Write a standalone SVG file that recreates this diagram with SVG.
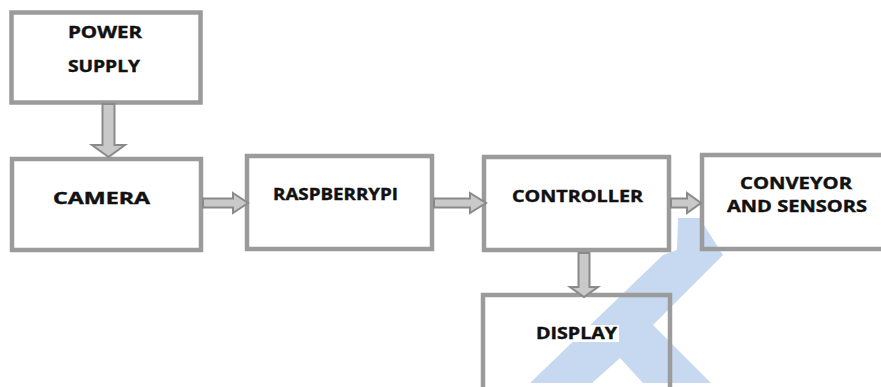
<svg xmlns="http://www.w3.org/2000/svg" width="881" height="387" viewBox="0 0 881 387">
  <style>
    .box { fill: none; stroke: #9b9b9b; stroke-width: 4.5; }
    .lbl { font-family: "Open Sans", "Liberation Sans", sans-serif; font-weight: 700; font-size: 15.5px; fill: #111; text-anchor: start; stroke: #111; stroke-width: 0.4; }
    .halo { fill: #fff; }
    .arr { fill: #c9c9c9; stroke: #8a8a8a; stroke-width: 2; stroke-linejoin: miter; }
    .wm { fill: #c6d9f0; }
  </style>
  <rect x="0" y="0" width="881" height="387" fill="#fff"/>
  <polygon class="wm" points="678,218 700,218 702,222 723,255 653,325 711,383 643,383 620,358 592,383 530,383 663,255 677,250"/>
  <g id="power-supply">
    <rect class="box" x="11.5" y="12.5" width="189" height="90"/>
    <text class="lbl" x="68" y="37.5" textLength="74" lengthAdjust="spacingAndGlyphs">POWER</text>
    <text class="lbl" x="68" y="71.5" textLength="72" lengthAdjust="spacingAndGlyphs">SUPPLY</text>
  </g>
  <g id="camera">
    <rect class="box" x="12" y="159" width="189" height="91"/>
    <text class="lbl" x="53" y="203.5" textLength="97" lengthAdjust="spacingAndGlyphs">CAMERA</text>
  </g>
  <g id="raspberrypi">
    <rect class="box" x="247" y="156" width="185" height="93"/>
    <text class="lbl" x="273" y="200" textLength="125" lengthAdjust="spacingAndGlyphs">RASPBERRYPI</text>
  </g>
  <g id="controller">
    <rect class="box" x="484" y="157" width="185" height="93"/>
    <text class="lbl" x="512" y="201.5" textLength="131" lengthAdjust="spacingAndGlyphs">CONTROLLER</text>
  </g>
  <g id="conveyor-and-sensors">
    <rect class="box" x="702" y="155" width="190" height="94"/>
    <text class="lbl" x="740" y="188.5" textLength="112" lengthAdjust="spacingAndGlyphs">CONVEYOR</text>
    <text class="lbl" x="727" y="211.5" textLength="140" lengthAdjust="spacingAndGlyphs">AND SENSORS</text>
  </g>
  <g id="display">
    <rect class="box" x="483" y="295" width="187" height="120"/>
    <rect class="halo" x="534" y="325" width="85" height="17"/>
    <text class="lbl" x="536" y="339" textLength="81" lengthAdjust="spacingAndGlyphs">DISPLAY</text>
  </g>
  <g id="connectors">
    <polygon class="arr" points="102.5,104 114.5,104 114.5,145 125,145 108.5,157 92,145 102.5,145"/>
    <polygon class="arr" points="203,198.5 233,198.5 233,193 248,203 233,213 233,207.5 203,207.5"/>
    <polygon class="arr" points="434,198.5 470,198.5 470,193 486,203 470,213 470,207.5 434,207.5"/>
    <polygon class="arr" points="671,198.5 687,198.5 687,193 701,203 687,213 687,207.5 671,207.5"/>
    <polygon class="arr" points="578.5,253 589.5,253 589.5,287 598,287 584,297 570,287 578.5,287"/>
  </g>
</svg>
